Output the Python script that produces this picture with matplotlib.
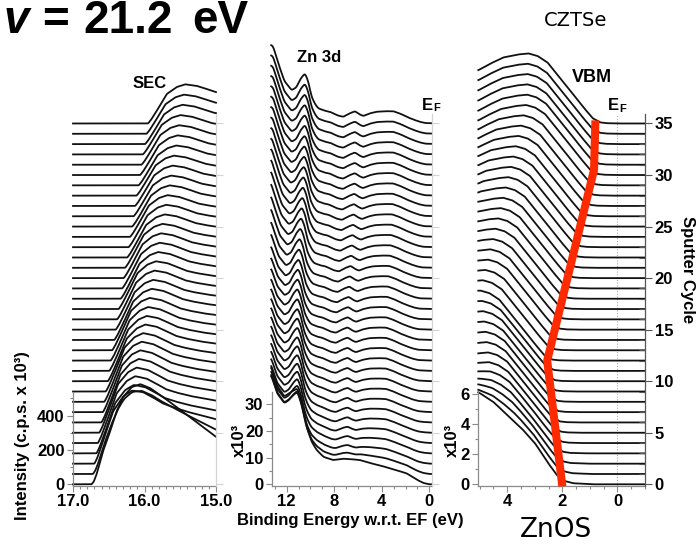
import numpy as np
import matplotlib
matplotlib.use("Agg")
import matplotlib.pyplot as plt
from matplotlib.ticker import MultipleLocator, FixedLocator, FormatStrFormatter

plt.rcParams['font.family'] = ['Liberation Sans', 'DejaVu Sans']
plt.rcParams['font.weight'] = 'bold'

# ---------------------------------------------------------------- data
cycles = list(range(36))

# secondary electron cutoff: onset kinetic energy (eV) of each sputter cycle
sec_onset = [16.74, 16.72, 16.70, 16.67, 16.65, 16.63, 16.60, 16.58, 16.56, 16.54,
             16.51, 16.49, 16.47, 16.45, 16.42, 16.40, 16.38, 16.36, 16.33, 16.31,
             16.29, 16.27, 16.24, 16.22, 16.20, 16.17, 16.15, 16.13, 16.11, 16.08,
             16.06, 16.04, 16.02, 15.99, 15.97, 15.95]
# peak height of the cutoff (c.p.s. x 1e3)
sec_peak = [583, 490, 430, 400, 390, 380, 370, 360, 350, 340,
            330, 320, 312, 305, 298, 290, 284, 278, 272, 266,
            261, 256, 251, 247, 243, 240, 237, 235, 233, 232,
            231, 230, 229, 229, 228, 228]
# fraction of absorber-like (CZTSe) cutoff shape in each cycle
sec_mix = [0.00, 0.30, 0.80, 0.92, 0.96, 0.98, 0.99, 1.00, 1.00, 1.00,
           1.00, 1.00, 1.00, 1.00, 1.00, 1.00, 1.00, 1.00, 1.00, 1.00,
           1.00, 1.00, 1.00, 1.00, 1.00, 1.00, 1.00, 1.00, 1.00, 1.00,
           1.00, 1.00, 1.00, 1.00, 1.00, 1.00]
# normalised cutoff shapes: depth below onset (eV) -> relative intensity
sec_depth_znos = [-1.0, 0.0, 0.03, 0.07, 0.16, 0.26, 0.35, 0.44, 0.56, 0.68, 0.82, 1.05, 1.42, 1.74, 2.0]
sec_rel_znos = [0, 0, 0.026, 0.10, 0.33, 0.53, 0.73, 0.87, 0.97, 1.0, 0.96, 0.845, 0.646, 0.473, 0.36]
sec_depth_czts = [-1.0, 0.0, 0.04, 0.12, 0.26, 0.40, 0.52, 0.68, 0.82, 0.95, 1.1, 1.3, 1.5, 1.8, 2.0]
sec_rel_czts = [0, 0, 0.09, 0.32, 0.75, 0.93, 1.0, 0.96, 0.88, 0.80, 0.75, 0.70, 0.665, 0.61, 0.57]
sec_spacing = 60.0

# Zn 3d / valence region: binding energy (eV) -> intensity (x 1e3)
zn_be_znos = [13.3, 12.8, 12.2, 11.7, 11.1, 10.7, 10.32, 9.9, 9.48, 8.9, 8.1,
              7.24, 6.5, 5.83, 5.0, 4.0, 3.0, 1.9, 1.0, 0.5, 0.0, -1.0]
zn_int_znos = [44, 37, 33, 34.5, 36, 30, 21.6, 16, 12.9, 10.3, 9.1,
               9.6, 9.4, 9.1, 8.0, 6.9, 5.6, 4.1, 1.6, 0.5, 0.0, 0.0]
zn_be_czts = [13.3, 13.13, 12.7, 12.2, 11.58, 11.2, 10.8, 10.46, 10.2, 9.9, 9.6, 9.34,
              8.8, 8.36, 7.7, 7.24, 6.7, 6.25, 5.9, 5.56, 5.0, 4.43, 3.7, 3.03, 2.4,
              1.9, 1.3, 0.78, 0.3, -1.0]
zn_int_czts = [29.5, 28.8, 22.5, 16.0, 12.5, 13.5, 17.0, 18.8, 16.0, 10.0, 7.2, 5.7,
               4.8, 4.4, 3.0, 2.5, 3.8, 4.6, 3.5, 2.8, 3.8, 4.4, 4.6, 4.6, 3.6,
               2.5, 1.4, 0.6, 0.15, 0.0]
zn_mix = [0.00, 0.30, 0.50, 0.60, 0.68, 0.74, 0.79, 0.83, 0.86, 0.89,
          0.91, 0.93, 0.95, 0.96, 0.97, 0.98, 0.99, 1.00, 1.00, 1.00,
          1.00, 1.00, 1.00, 1.00, 1.00, 1.00, 1.00, 1.00, 1.00, 1.00,
          1.00, 1.00, 1.00, 1.00, 1.00, 1.00]
# rigid shift of each spectrum (eV)
zn_shift = [0.62, 0.62, 0.62, 0.62, 0.62, 0.62, 0.62, 0.62, 0.62, 0.62,
            0.62, 0.62, 0.62, 0.62, 0.62, 0.60, 0.57, 0.53, 0.48, 0.43,
            0.37, 0.31, 0.25, 0.20, 0.15, 0.11, 0.08, 0.05, 0.03, 0.01,
            0.00, 0.00, 0.00, 0.00, 0.00, 0.00]
zn_spacing = 3.87

# valence band maximum: leading edge position (eV) of each cycle
vbm_edge = [2.00, 2.05, 2.09, 2.14, 2.18, 2.23, 2.27, 2.32, 2.36, 2.41,
            2.45, 2.50, 2.55, 2.46, 2.37, 2.27, 2.18, 2.09, 2.00, 1.90,
            1.81, 1.72, 1.63, 1.53, 1.44, 1.35, 1.26, 1.16, 1.07, 0.98,
            0.89, 0.85, 0.84, 0.83, 0.82, 0.80]
vbm_mix = [0.00, 0.30, 0.50, 0.70, 0.85, 0.95, 1.00, 1.00, 1.00, 1.00,
           1.00, 1.00, 1.00, 1.00, 1.00, 1.00, 1.00, 1.00, 1.00, 1.00,
           1.00, 1.00, 1.00, 1.00, 1.00, 1.00, 1.00, 1.00, 1.00, 1.00,
           1.00, 1.00, 1.00, 1.00, 1.00, 1.00]
# valence band shapes: energy above the edge (eV) -> intensity (x 1e3)
vbm_rel_znos = [-3.5, -1.12, -0.4, -0.04, 0.2, 0.51, 0.99, 1.48, 2.0, 2.51, 2.99, 3.5, 4.5]
vbm_int_znos = [0.0, 0.0, 0.07, 0.24, 0.62, 1.4, 2.73, 3.73, 4.62, 5.5, 6.07, 6.6, 7.4]
vbm_rel_czts = [-3.5, -0.8, -0.4, -0.18, 0.1, 0.43, 0.7, 1.01, 1.4, 1.74, 2.1, 2.43, 2.8, 3.34, 3.8, 4.3]
vbm_int_czts = [0.0, 0.0, 0.02, 0.07, 0.35, 1.07, 1.7, 2.4, 3.3, 4.07, 4.5, 4.67, 4.6, 4.4, 4.0, 3.5]
vbm_spacing = 0.687

# band edge trace across the stack
trace_be = [2.0, 2.55, 0.85, 0.80]
trace_cycle = [-0.2, 12.0, 30.5, 35.3]

# ---------------------------------------------------------------- layout
W, H = 699, 547
fig = plt.figure(figsize=(W / 100, H / 100), dpi=100)
C_LO, C_HI = -0.165, 35.92          # visible range in cycle units
Y_TOP, Y_BOT = 114, 486             # axes top / bottom (px)
AXIS_GRAY = '#8a8a8a'
LINE = '#111111'


def px_axes(x0, x1):
    return fig.add_axes([x0 / W, (H - Y_BOT) / H, (x1 - x0) / W, (Y_BOT - Y_TOP) / H])


def smooth(y, n):
    k = np.hanning(n)
    k /= k.sum()
    yp = np.concatenate([np.full(n, y[0]), y, np.full(n, y[-1])])
    return np.convolve(yp, k, mode='same')[n:-n]


def base_style(ax, spacing, left_top):
    ax.set_ylim(C_LO * spacing, C_HI * spacing)
    ax.spines['top'].set_visible(False)
    ax.spines['right'].set_visible(False)
    for s in ('left', 'bottom'):
        ax.spines[s].set_color(AXIS_GRAY)
        ax.spines[s].set_linewidth(0.9)
    ax.spines['left'].set_bounds(C_LO * spacing, left_top)
    ax.tick_params(which='both', direction='out', color=AXIS_GRAY, width=0.8,
                   labelsize=12, pad=2)
    ax.tick_params(which='major', length=4)
    ax.tick_params(which='minor', length=2.5)
    ax.patch.set_alpha(0)


def right_cycle_axis(ax, color, labels):
    tw = ax.twinx()
    tw.set_ylim(C_LO, C_HI)
    for s in ('left', 'top', 'bottom'):
        tw.spines[s].set_visible(False)
    tw.spines['right'].set_color(color)
    tw.spines['right'].set_linewidth(0.9)
    tw.yaxis.set_major_locator(MultipleLocator(5))
    tw.tick_params(axis='y', which='major', direction='out', length=5, width=0.8,
                   color=color, labelsize=12, pad=2, labelright=labels)
    if labels:
        tw.yaxis.set_minor_locator(MultipleLocator(1))
        tw.tick_params(axis='y', which='minor', direction='in', length=4, width=0.8,
                       color=color)
    tw.patch.set_alpha(0)
    return tw


# ---------------------------------------------------------------- SEC panel
ax1 = px_axes(73, 216)
ke = np.linspace(17.0, 15.0, 700)
for i in cycles:
    depth = sec_onset[i] - ke
    znos = np.interp(depth, sec_depth_znos, sec_rel_znos)
    czts = np.interp(depth, sec_depth_czts, sec_rel_czts)
    y = i * sec_spacing + sec_peak[i] * ((1 - sec_mix[i]) * znos + sec_mix[i] * czts)
    ax1.plot(ke, smooth(y, 11), color=LINE, lw=1.3, clip_on=False)
ax1.set_xlim(17.0, 15.0)
base_style(ax1, sec_spacing, 535)
ax1.xaxis.set_major_locator(FixedLocator([17.0, 16.0, 15.0]))
ax1.xaxis.set_major_formatter(FormatStrFormatter('%.1f'))
ax1.xaxis.set_minor_locator(MultipleLocator(0.1))
ax1.yaxis.set_major_locator(FixedLocator([0, 200, 400]))
ax1.yaxis.set_minor_locator(FixedLocator([100, 300, 500]))
right_cycle_axis(ax1, '#d4d4d4', False)

# ---------------------------------------------------------------- Zn 3d panel
ax2 = px_axes(271.7, 431.7)
be = np.linspace(13.3, -0.2, 900)
for i in cycles:
    e_a = be - zn_shift[i] + zn_shift[0]
    e_b = be - zn_shift[i] + zn_shift[-1]
    zn_a = np.interp(e_a, zn_be_znos[::-1], zn_int_znos[::-1])
    zn_b = np.interp(e_b, zn_be_czts[::-1], zn_int_czts[::-1])
    y = i * zn_spacing + (1 - zn_mix[i]) * zn_a + zn_mix[i] * zn_b
    ax2.plot(be, smooth(y, 25), color=LINE, lw=1.3, clip_on=False)
ax2.set_xlim(13.26, -0.2)
base_style(ax2, zn_spacing, 34.6)
ax2.xaxis.set_major_locator(FixedLocator([12, 8, 4, 0]))
ax2.xaxis.set_minor_locator(MultipleLocator(1))
ax2.yaxis.set_major_locator(FixedLocator([0, 10, 20, 30]))
ax2.yaxis.set_minor_locator(FixedLocator([5, 15, 25]))
right_cycle_axis(ax2, '#d4d4d4', False)

# ---------------------------------------------------------------- VBM panel
ax3 = px_axes(478.3, 645)
bv = np.linspace(5.05, -1.0, 700)
ax3.axvline(0, color='#b0b0b0', lw=0.8, ls=(0, (1, 1.5)), zorder=0)
for i in cycles:
    rel = bv - vbm_edge[i]
    znos = np.interp(rel, vbm_rel_znos, vbm_int_znos)
    czts = np.interp(rel, vbm_rel_czts, vbm_int_czts)
    y = i * vbm_spacing + (1 - vbm_mix[i]) * znos + vbm_mix[i] * czts
    ax3.plot(bv, smooth(y, 11), color=LINE, lw=1.3, clip_on=False)
ax3.plot(trace_be, [c * vbm_spacing for c in trace_cycle], color='#ff2a00', lw=5.8,
         solid_capstyle='butt', solid_joinstyle='round', clip_on=False, zorder=5)
ax3.set_xlim(5.05, -1.0)
base_style(ax3, vbm_spacing, 6.15)
ax3.xaxis.set_major_locator(FixedLocator([4, 2, 0]))
ax3.xaxis.set_minor_locator(MultipleLocator(0.5))
ax3.yaxis.set_major_locator(FixedLocator([0, 2, 4, 6]))
ax3.yaxis.set_minor_locator(FixedLocator([1, 3, 5]))
right_cycle_axis(ax3, '#555555', True)


# ---------------------------------------------------------------- text
def ftext(x, y, s, **kw):
    return fig.text(x / W, 1 - y / H, s, **kw)


ftext(150, 83, 'SEC', ha='center', va='center', fontsize=12)
ftext(319, 57, 'Zn 3d', ha='center', va='center', fontsize=12)
ftext(592, 78, 'VBM', ha='center', va='center', fontsize=13)
for ex, ey in ((427, 105), (613, 106)):
    ftext(ex, ey, 'E', ha='center', va='center', fontsize=12)
    ftext(ex + 6, ey + 3, 'F', ha='left', va='center', fontsize=8)

ftext(23, 436, 'Intensity (c.p.s. x 10\u00b3)', rotation=90, ha='center', va='center',
      fontsize=12)
ftext(239, 440, 'x10\u00b3', rotation=90, ha='center', va='center', fontsize=12)
ftext(452, 440, 'x10\u00b3', rotation=90, ha='center', va='center', fontsize=12)
ftext(350, 520, 'Binding Energy w.r.t. EF (eV)', ha='center', va='center', fontsize=12)
ftext(687, 270, 'Sputter Cycle', rotation=270, ha='center', va='center', fontsize=12)

ftext(576, 20, 'CZTSe', ha='center', va='center', fontsize=14, fontweight='normal',
      family='DejaVu Sans')
ftext(556, 530, 'ZnOS', ha='center', va='center', fontsize=19, fontweight='normal',
      family='DejaVu Sans')

# photon energy heading, set piece by piece
for cx, s, st in ((16.5, 'v', 'italic'), (55, '=', 'normal'),
                  (128, '21.2', 'normal'), (220, 'eV', 'normal')):
    ftext(cx, 33, s, ha='center', va='baseline', fontsize=33, style=st)

fig.savefig('out.png', dpi=100)
